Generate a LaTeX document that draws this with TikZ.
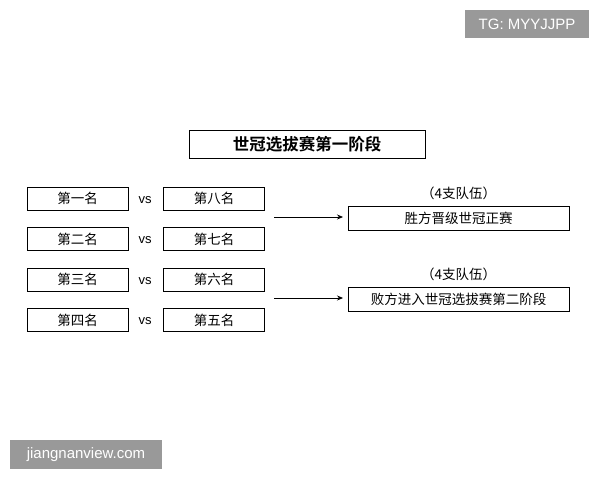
\documentclass[tikz,border=0pt]{standalone}
\usepackage{fontspec}
\setmainfont{Liberation Sans}
\newfontfamily\cjk{Noto Sans CJK SC}
\newfontfamily\cjkb{Noto Sans CJK SC Bold}
\usetikzlibrary{arrows.meta}
\begin{document}
\begin{tikzpicture}[x=1pt,y=-1pt,
  box/.style={draw,line width=0.8pt,minimum width=101pt,minimum height=23pt,inner sep=0pt,font=\cjk\fontsize{13.5}{15}\selectfont},
  wide/.style={draw,line width=0.8pt,minimum width=221pt,minimum height=24pt,inner sep=0pt,font=\cjk\fontsize{13.5}{15}\selectfont},
  vs/.style={font=\fontsize{13}{15}\selectfont},
  arr/.style={-{Stealth[length=6pt,width=5pt]},line width=0.7pt},
  wm/.style={fill=black!40,text=white,inner sep=0pt,font=\fontsize{15}{17}\selectfont}]
\useasboundingbox (0,0) rectangle (600,480);
\node[draw,line width=0.8pt,minimum width=236pt,minimum height=28pt,inner sep=0pt,font=\cjkb\fontsize{16.5}{18}\selectfont] (title) at (307,144) {世冠选拔赛第一阶段};
\node[box] (a1) at (77.5,198.5) {第一名};
\node[box] (a2) at (77.5,239) {第二名};
\node[box] (a3) at (77.5,279.5) {第三名};
\node[box] (a4) at (77.5,320) {第四名};
\node[box] (b1) at (214,198.5) {第八名};
\node[box] (b2) at (214,239) {第七名};
\node[box] (b3) at (214,279.5) {第六名};
\node[box] (b4) at (214,320) {第五名};
\node[vs] (v1) at (145,200) {vs};
\node[vs] (v2) at (145,240.5) {vs};
\node[vs] (v3) at (145,281) {vs};
\node[vs] (v4) at (145,321.5) {vs};
\node[wide] (w) at (458.5,218) {胜方晋级世冠正赛};
\node[wide] (l) at (458.5,299) {败方进入世冠选拔赛第二阶段};
\node[font=\cjk\fontsize{13.5}{15}\selectfont] (wl) at (458.5,193) {（4支队伍）};
\node[font=\cjk\fontsize{13.5}{15}\selectfont] (ll) at (458.5,274) {（4支队伍）};
\coordinate (s1) at (274,217);
\coordinate (s2) at (274,298);
\coordinate (e1) at (343,217);
\coordinate (e2) at (343,298);
\draw[arr] (s1) -- (e1);
\draw[arr] (s2) -- (e2);
\node[wm,minimum width=124pt,minimum height=28pt] (tg) at (527,24) {TG: MYYJJPP};
\node[wm,minimum width=152pt,minimum height=29pt] (jn) at (86,454.5) {jiangnanview.com};
\end{tikzpicture}
\end{document}
